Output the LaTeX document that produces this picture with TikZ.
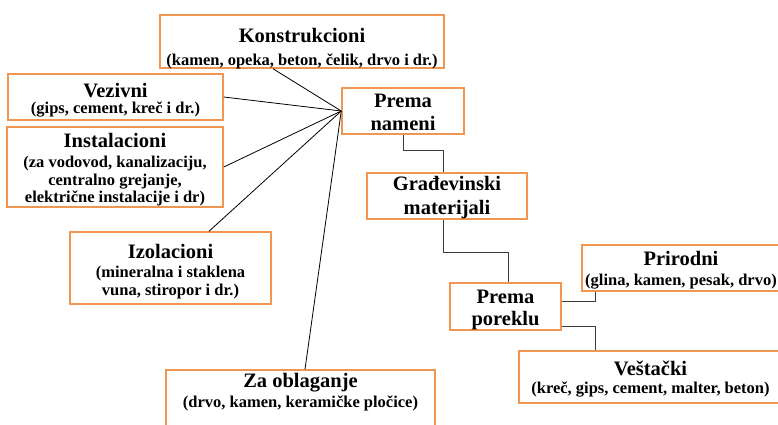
\documentclass[tikz,border=0pt]{standalone}
\usepackage{fontspec}
\setmainfont{Liberation Serif}
\usetikzlibrary{positioning, calc}
\definecolor{okvir}{RGB}{240,150,80}
\definecolor{spoj}{RGB}{60,60,60}
\newcommand{\naslov}[1]{{\fontsize{20.5}{16}\selectfont #1}}

\begin{document}
\begin{tikzpicture}[x=1pt, y=-1pt,
    matbox/.style={draw=okvir, line width=1.5pt, rectangle, inner sep=0pt, align=center,
        font=\bfseries\fontsize{16.5}{16}\selectfont},
    velik/.style={font=\bfseries\fontsize{20.5}{16}\selectfont},
    fan/.style={draw=black, line width=0.8pt},
    elbow/.style={draw=spoj, line width=1pt}]
    \useasboundingbox (0,0) rectangle (778,424);
    \clip (0,0) rectangle (778,424);

    % Prema nameni
    \node[matbox, velik, minimum width=122pt, text height=42pt, text depth=4pt] (nam) at (403,111)
        {Prema\\[7pt]nameni};
    \node[matbox, minimum width=284pt, text height=50pt, text depth=3pt] (kon) at (302,41.5)
        {\naslov{Konstrukcioni}\\[7pt](kamen, opeka, beton, čelik, drvo i dr.)};
    \node[matbox, minimum width=215pt, text height=39pt, text depth=7pt] (vez) at (115.5,97)
        {\naslov{Vezivni}\\(gips, cement, kreč i dr.)};
    \node[matbox, minimum width=216pt, text height=75pt, text depth=5pt] (ins) at (115,167)
        {\naslov{Instalacioni}\\[4pt](za vodovod, kanalizaciju,\\[2pt]centralno grejanje,\\[1pt]električne instalacije i dr)};
    \node[matbox, minimum width=201pt, text height=63pt, text depth=9pt] (izo) at (170.5,268)
        {\naslov{Izolacioni}\\[3pt](mineralna i staklena\\[2pt]vuna, stiropor i dr.)};
    \node[matbox, minimum width=269pt, text height=37pt, text depth=19pt] (zao) at (300.5,398)
        {\naslov{Za oblaganje}\\[2pt](drvo, kamen, keramičke pločice)};

    % Prema poreklu
    \node[matbox, velik, minimum width=160pt, text height=41pt, text depth=5pt] (gra) at (447,196)
        {Građevinski\\[8pt]materijali};
    \node[matbox, velik, minimum width=111pt, text height=42pt, text depth=5pt] (por) at (505.5,306.5)
        {Prema\\[6pt]poreklu};
    \node[matbox, minimum width=198pt, text height=40pt, text depth=6pt] (pri) at (681,268)
        {\naslov{Prirodni}\\[4pt](glina, kamen, pesak, drvo)};
    \node[matbox, minimum width=263pt, text height=42pt, text depth=10pt] (ves) at (650.5,377)
        {\naslov{Veštački}\\[2pt](kreč, gips, cement, malter, beton)};

    % lepeza
    \draw[fan] (nam.west) -- ([xshift=-29pt]kon.south);
    \draw[fan] (nam.west) -- (vez.east);
    \draw[fan] (nam.west) -- (ins.east);
    \draw[fan] (nam.west) -- ([xshift=38.5pt]izo.north);
    \draw[fan] (nam.west) -- ([xshift=4.5pt]zao.north);

    % stepenice
    \draw[elbow] (nam.south) -- ++(0,16) -| ([xshift=-4pt]gra.north);
    \draw[elbow] ([xshift=-4pt]gra.south) -- ++(0,33) -| ([xshift=2.5pt]por.north);
    \draw[elbow] ([yshift=5.5pt]por.east) -| ([xshift=14pt]pri.south west);
    \draw[elbow] ([yshift=-19.5pt]por.east) -| ([xshift=77pt]ves.north west);
\end{tikzpicture}
\end{document}
